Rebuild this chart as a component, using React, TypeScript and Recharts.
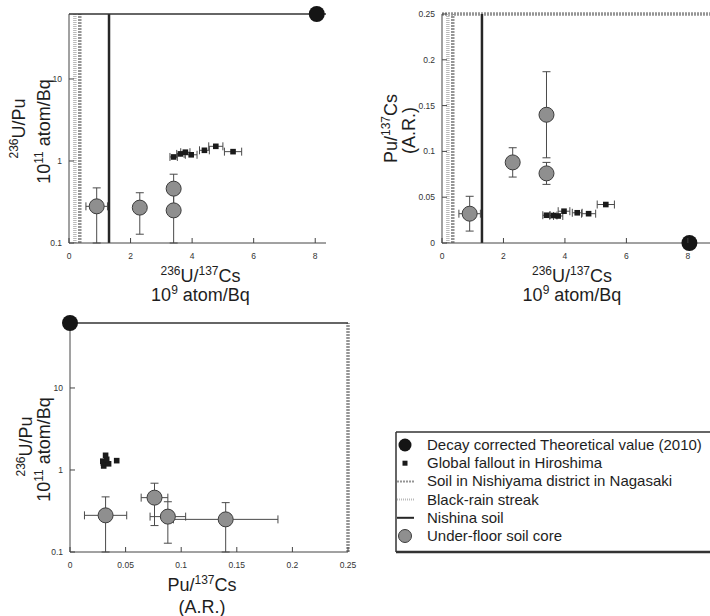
import React from 'react'
import { ScatterChart, Scatter, XAxis, YAxis, ErrorBar, ReferenceLine } from 'recharts'

// under-floor soil cores
const coreUCs = [0.9, 2.3, 3.4, 3.4]
const coreUCsErr = [0.35, 0, 0, 0]
const coreUPu = [0.28, 0.27, 0.46, 0.25]
const coreUPuLow = [0.1, 0.128, 0.21, 0.1]
const coreUPuHigh = [0.47, 0.41, 0.69, 0.4]
const corePuCs = [0.032, 0.088, 0.076, 0.14]
const corePuCsLow = [0.013, 0.072, 0.064, 0.093]
const corePuCsHigh = [0.051, 0.104, 0.088, 0.187]

// global fallout in Hiroshima
const gfUCs = [3.4, 3.62, 3.78, 3.97, 4.4, 4.77, 5.33]
const gfUCsErr = [0.12, 0.12, 0.15, 0.19, 0.16, 0.23, 0.28]
const gfUPu = [1.12, 1.22, 1.28, 1.19, 1.35, 1.51, 1.3]
const gfPuCs = [0.0303, 0.03, 0.0295, 0.0347, 0.033, 0.032, 0.042]

// decay corrected theoretical value (2010)
const theoUCs = 8.05
const theoUPu = 62
const theoPuCs = 0

// reference soils
const nishinaUCs = 1.3
const nishiyamaUCs = 0.35
const blackRainUCs = 0.19
const nishiyamaPuCs = 0.25

const uCsTicks = [0, 2, 4, 6, 8]
const uPuTicks = [0.1, 1, 10]
const puCsTicks = [0, 0.05, 0.1, 0.15, 0.2, 0.25]

const legendLabels = [
  'Decay corrected Theoretical value (2010)',
  'Global fallout in Hiroshima',
  'Soil in Nishiyama district in Nagasaki',
  'Black-rain streak',
  'Nishina soil',
  'Under-floor soil core',
]

const FONT = '"Liberation Sans", Arial, sans-serif'
const AXIS = '#444'
const NISHIYAMA = '#959595'
const BLACK_RAIN = '#bababa'

const toErr = (v: number, lo: number, hi: number) => [v - lo, hi - v]

const coresTL = coreUCs.map((x, i) => ({
  x,
  y: coreUPu[i],
  ex: coreUCsErr[i],
  ey: toErr(coreUPu[i], coreUPuLow[i], coreUPuHigh[i]),
}))
const gfTL = gfUCs.map((x, i) => ({ x, y: gfUPu[i], ex: gfUCsErr[i] }))
const theoTL = [{ x: theoUCs, y: theoUPu }]

const coresTR = coreUCs.map((x, i) => ({
  x,
  y: corePuCs[i],
  ex: coreUCsErr[i],
  ey: toErr(corePuCs[i], corePuCsLow[i], corePuCsHigh[i]),
}))
const gfTR = gfUCs.map((x, i) => ({ x, y: gfPuCs[i], ex: gfUCsErr[i] }))
const theoTR = [{ x: theoUCs, y: theoPuCs }]

const coresBL = corePuCs.map((x, i) => ({
  x,
  y: coreUPu[i],
  ex: toErr(x, corePuCsLow[i], corePuCsHigh[i]),
  ey: toErr(coreUPu[i], coreUPuLow[i], coreUPuHigh[i]),
}))
const gfBL = gfPuCs.map((x, i) => ({ x, y: gfUPu[i] }))
const theoBL = [{ x: theoPuCs, y: theoUPu }]

// markers
const coreShape = (p: any) => (
  <circle cx={p.cx} cy={p.cy} r={7.5} fill="#8f8f8f" stroke="#3c3c3c" strokeWidth={1} />
)
const gfShape = (p: any) => <rect x={p.cx - 2.8} y={p.cy - 2.8} width={5.6} height={5.6} fill="#1a1a1a" />
const theoShape = (p: any) => <circle cx={p.cx} cy={p.cy} r={8} fill="#151515" />

// ticks point into the plot, labels outside
const BottomTick = (p: any) => (
  <g>
    <line x1={p.x} x2={p.x} y1={p.y} y2={p.y - 5} stroke={AXIS} />
    <text x={p.x} y={p.y + 16} textAnchor="middle" fontSize={8.5} fontFamily={FONT} fill="#333">
      {String(p.payload.value)}
    </text>
  </g>
)
const TopTick = (p: any) => <line x1={p.x} x2={p.x} y1={p.y} y2={p.y + 5} stroke={AXIS} />
const LeftTick = (p: any) => (
  <g>
    <line x1={p.x} x2={p.x + 5} y1={p.y} y2={p.y} stroke={AXIS} />
    <text x={p.x - 7} y={p.y + 3} textAnchor="end" fontSize={8.5} fontFamily={FONT} fill="#333">
      {String(p.payload.value)}
    </text>
  </g>
)
const RightTick = (p: any) => <line x1={p.x} x2={p.x - 5} y1={p.y} y2={p.y} stroke={AXIS} />

type Part = [string, boolean]

const RichText = ({ x, y, parts, rotate }: { x: number; y: number; parts: Part[]; rotate?: boolean }) => {
  let raised = false
  const spans = parts.map(([t, sup], i) => {
    let dy = 0
    if (sup && !raised) {
      dy = -7
      raised = true
    } else if (!sup && raised) {
      dy = 7
      raised = false
    }
    return (
      <tspan key={i} dy={dy} fontSize={sup ? 12 : 18}>
        {t}
      </tspan>
    )
  })
  return (
    <text
      x={x}
      y={y}
      textAnchor="middle"
      fontFamily={FONT}
      fontSize={18}
      fill="#1e1e1e"
      transform={rotate ? `rotate(-90 ${x} ${y})` : undefined}
    >
      {spans}
    </text>
  )
}

const uCsTitle: Part[] = [['236', true], ['U/', false], ['137', true], ['Cs', false]]
const atom9: Part[] = [['10', false], ['9', true], [' atom/Bq', false]]
const uPuTitle: Part[] = [['236', true], ['U/Pu', false]]
const atom11: Part[] = [['10', false], ['11', true], [' atom/Bq', false]]
const puCsTitle: Part[] = [['Pu/', false], ['137', true], ['Cs', false]]
const arTitle: Part[] = [['(A.R.)', false]]

const xTitle = (l1: Part[], l2: Part[], dx: number, o1: number, o2: number) => (props: any) => {
  const vb = props.viewBox
  const cx = vb.x + vb.width / 2 + dx
  return (
    <g>
      <RichText x={cx} y={vb.y + o1} parts={l1} />
      <RichText x={cx} y={vb.y + o2} parts={l2} />
    </g>
  )
}

const yTitle = (l1: Part[], l2: Part[], x1: number, x2: number, dy1: number, dy2: number) => (props: any) => {
  const vb = props.viewBox
  const cy = vb.y + vb.height / 2
  return (
    <g>
      <RichText x={vb.x + x1} y={cy + dy1} parts={l1} rotate />
      <RichText x={vb.x + x2} y={cy + dy2} parts={l2} rotate />
    </g>
  )
}

const errProps = { stroke: '#4a4a4a', strokeWidth: 1, width: 4 }

const TopLeft = () => (
  <ScatterChart width={326} height={310} margin={{ top: 13, right: 0, bottom: 0, left: 0 }}>
    <XAxis
      xAxisId="b"
      type="number"
      dataKey="x"
      domain={[0, 8.35]}
      ticks={uCsTicks}
      interval={0}
      height={67}
      tickSize={0}
      tickMargin={0}
      tickLine={false}
      tick={BottomTick}
      axisLine={{ stroke: AXIS }}
      label={xTitle(uCsTitle, atom9, 3, 39, 58)}
    />
    <XAxis
      xAxisId="t"
      orientation="top"
      type="number"
      domain={[0, 8.35]}
      ticks={uCsTicks}
      interval={0}
      height={1}
      tickSize={0}
      tickLine={false}
      tick={TopTick}
      axisLine={{ stroke: '#333', strokeWidth: 1.3 }}
    />
    <YAxis
      yAxisId="l"
      type="number"
      dataKey="y"
      scale="log"
      domain={[0.1, 62]}
      ticks={uPuTicks}
      interval={0}
      width={69}
      tickSize={0}
      tickMargin={0}
      tickLine={false}
      tick={LeftTick}
      axisLine={{ stroke: AXIS }}
      label={yTitle(uPuTitle, atom11, 25, 50, 0, 3)}
    />
    <ReferenceLine xAxisId="b" yAxisId="l" x={blackRainUCs} stroke={BLACK_RAIN} strokeWidth={3.5} strokeDasharray="1 1" />
    <ReferenceLine xAxisId="b" yAxisId="l" x={nishiyamaUCs} stroke={NISHIYAMA} strokeWidth={3.5} strokeDasharray="2 1" />
    <ReferenceLine xAxisId="b" yAxisId="l" x={nishinaUCs} stroke="#262626" strokeWidth={2.5} />
    <Scatter xAxisId="b" yAxisId="l" data={coresTL} shape={coreShape} isAnimationActive={false}>
      <ErrorBar dataKey="ey" direction="y" {...errProps} />
      <ErrorBar dataKey="ex" direction="x" {...errProps} />
    </Scatter>
    <Scatter xAxisId="b" yAxisId="l" data={gfTL} shape={gfShape} isAnimationActive={false}>
      <ErrorBar dataKey="ex" direction="x" {...errProps} />
    </Scatter>
    <Scatter xAxisId="b" yAxisId="l" data={theoTL} shape={theoShape} isAnimationActive={false} />
  </ScatterChart>
)

const TopRight = () => (
  <ScatterChart width={340} height={310} margin={{ top: 14, right: 0, bottom: 0, left: 0 }}>
    <XAxis
      xAxisId="b"
      type="number"
      dataKey="x"
      domain={[0, 8.72]}
      ticks={uCsTicks}
      interval={0}
      height={67}
      tickSize={0}
      tickMargin={0}
      tickLine={false}
      tick={BottomTick}
      axisLine={{ stroke: AXIS }}
      label={xTitle(uCsTitle, atom9, -4, 39, 58)}
    />
    <YAxis
      yAxisId="l"
      type="number"
      dataKey="y"
      domain={[0, 0.25]}
      ticks={puCsTicks}
      interval={0}
      width={72}
      tickSize={0}
      tickMargin={0}
      tickLine={false}
      tick={LeftTick}
      axisLine={{ stroke: AXIS }}
      label={yTitle(puCsTitle, arTitle, 27, 45, 0, 2)}
    />
    <ReferenceLine xAxisId="b" yAxisId="l" y={nishiyamaPuCs} stroke={NISHIYAMA} strokeWidth={3.5} strokeDasharray="2 1" />
    <ReferenceLine xAxisId="b" yAxisId="l" x={blackRainUCs} stroke={BLACK_RAIN} strokeWidth={3.5} strokeDasharray="1 1" />
    <ReferenceLine xAxisId="b" yAxisId="l" x={nishiyamaUCs} stroke={NISHIYAMA} strokeWidth={3.5} strokeDasharray="2 1" />
    <ReferenceLine xAxisId="b" yAxisId="l" x={nishinaUCs} stroke="#262626" strokeWidth={2.5} />
    <Scatter xAxisId="b" yAxisId="l" data={coresTR} shape={coreShape} isAnimationActive={false}>
      <ErrorBar dataKey="ey" direction="y" {...errProps} />
      <ErrorBar dataKey="ex" direction="x" {...errProps} />
    </Scatter>
    <Scatter xAxisId="b" yAxisId="l" data={gfTR} shape={gfShape} isAnimationActive={false}>
      <ErrorBar dataKey="ex" direction="x" {...errProps} />
    </Scatter>
    <Scatter xAxisId="b" yAxisId="l" data={theoTR} shape={theoShape} isAnimationActive={false} />
  </ScatterChart>
)

const BottomLeft = () => (
  <ScatterChart width={362} height={316} margin={{ top: 22, right: 13, bottom: 0, left: 0 }}>
    <XAxis
      xAxisId="b"
      type="number"
      dataKey="x"
      domain={[0, 0.25]}
      ticks={puCsTicks}
      interval={0}
      height={64}
      tickSize={0}
      tickMargin={0}
      tickLine={false}
      tick={BottomTick}
      axisLine={{ stroke: AXIS }}
      label={xTitle(puCsTitle, arTitle, -7, 39, 61)}
    />
    <XAxis
      xAxisId="t"
      orientation="top"
      type="number"
      domain={[0, 0.25]}
      ticks={puCsTicks}
      interval={0}
      height={1}
      tickSize={0}
      tickLine={false}
      tick={TopTick}
      axisLine={{ stroke: '#333', strokeWidth: 1.3 }}
    />
    <YAxis
      yAxisId="l"
      type="number"
      dataKey="y"
      scale="log"
      domain={[0.1, 62]}
      ticks={uPuTicks}
      interval={0}
      width={70}
      tickSize={0}
      tickMargin={0}
      tickLine={false}
      tick={LeftTick}
      axisLine={{ stroke: AXIS }}
      label={yTitle(uPuTitle, atom11, 32, 50, 9, 12)}
    />
    <YAxis
      yAxisId="r"
      orientation="right"
      type="number"
      scale="log"
      domain={[0.1, 62]}
      ticks={uPuTicks}
      interval={0}
      width={1}
      tickSize={0}
      tickLine={false}
      tick={RightTick}
      axisLine={false}
    />
    <ReferenceLine xAxisId="b" yAxisId="l" x={nishiyamaPuCs} stroke={NISHIYAMA} strokeWidth={3.5} strokeDasharray="2 1" />
    <Scatter xAxisId="b" yAxisId="l" data={coresBL} shape={coreShape} isAnimationActive={false}>
      <ErrorBar dataKey="ey" direction="y" {...errProps} />
      <ErrorBar dataKey="ex" direction="x" {...errProps} />
    </Scatter>
    <Scatter xAxisId="b" yAxisId="l" data={gfBL} shape={gfShape} isAnimationActive={false} />
    <Scatter xAxisId="b" yAxisId="l" data={theoBL} shape={theoShape} isAnimationActive={false} />
  </ScatterChart>
)

const legendIcon = (i: number, cy: number) => {
  if (i === 0) return <circle cx={17} cy={cy} r={6.5} fill="#151515" />
  if (i === 1) return <rect x={14.5} y={cy - 2.5} width={5} height={5} fill="#1a1a1a" />
  if (i === 2) return <line x1={9} x2={26} y1={cy} y2={cy} stroke={NISHIYAMA} strokeWidth={2} strokeDasharray="2 1" />
  if (i === 3) return <line x1={9} x2={26} y1={cy} y2={cy} stroke={BLACK_RAIN} strokeWidth={2} strokeDasharray="1 1" />
  if (i === 4) return <line x1={9} x2={26} y1={cy} y2={cy} stroke="#262626" strokeWidth={2} />
  return <circle cx={17} cy={cy} r={6.5} fill="#8f8f8f" stroke="#3c3c3c" strokeWidth={1} />
}

const LegendBox = () => (
  <svg width={322} height={135} style={{ position: 'absolute', left: 388, top: 425 }}>
    <line x1={8} x2={322} y1={7} y2={7} stroke="#333" strokeWidth={1.5} />
    <line x1={8} x2={322} y1={127} y2={127} stroke="#333" strokeWidth={2.5} />
    <line x1={8} x2={8} y1={7} y2={127} stroke="#333" strokeWidth={1.5} />
    {legendLabels.map((label, i) => {
      const base = 25 + i * 18.2
      return (
        <g key={label}>
          {legendIcon(i, base - 5)}
          <text x={39} y={base} fontSize={15} fontFamily={FONT} fill="#1e1e1e">
            {label}
          </text>
        </g>
      )
    })}
  </svg>
)

export default function App() {
  return (
    <div style={{ position: 'absolute', left: 0, top: 0, width: 710, height: 616, background: '#fff', overflow: 'hidden' }}>
      <div style={{ position: 'absolute', left: 0, top: 0 }}>
        <TopLeft />
      </div>
      <div style={{ position: 'absolute', left: 370, top: 0 }}>
        <TopRight />
      </div>
      <div style={{ position: 'absolute', left: 0, top: 300 }}>
        <BottomLeft />
      </div>
      <LegendBox />
    </div>
  )
}
